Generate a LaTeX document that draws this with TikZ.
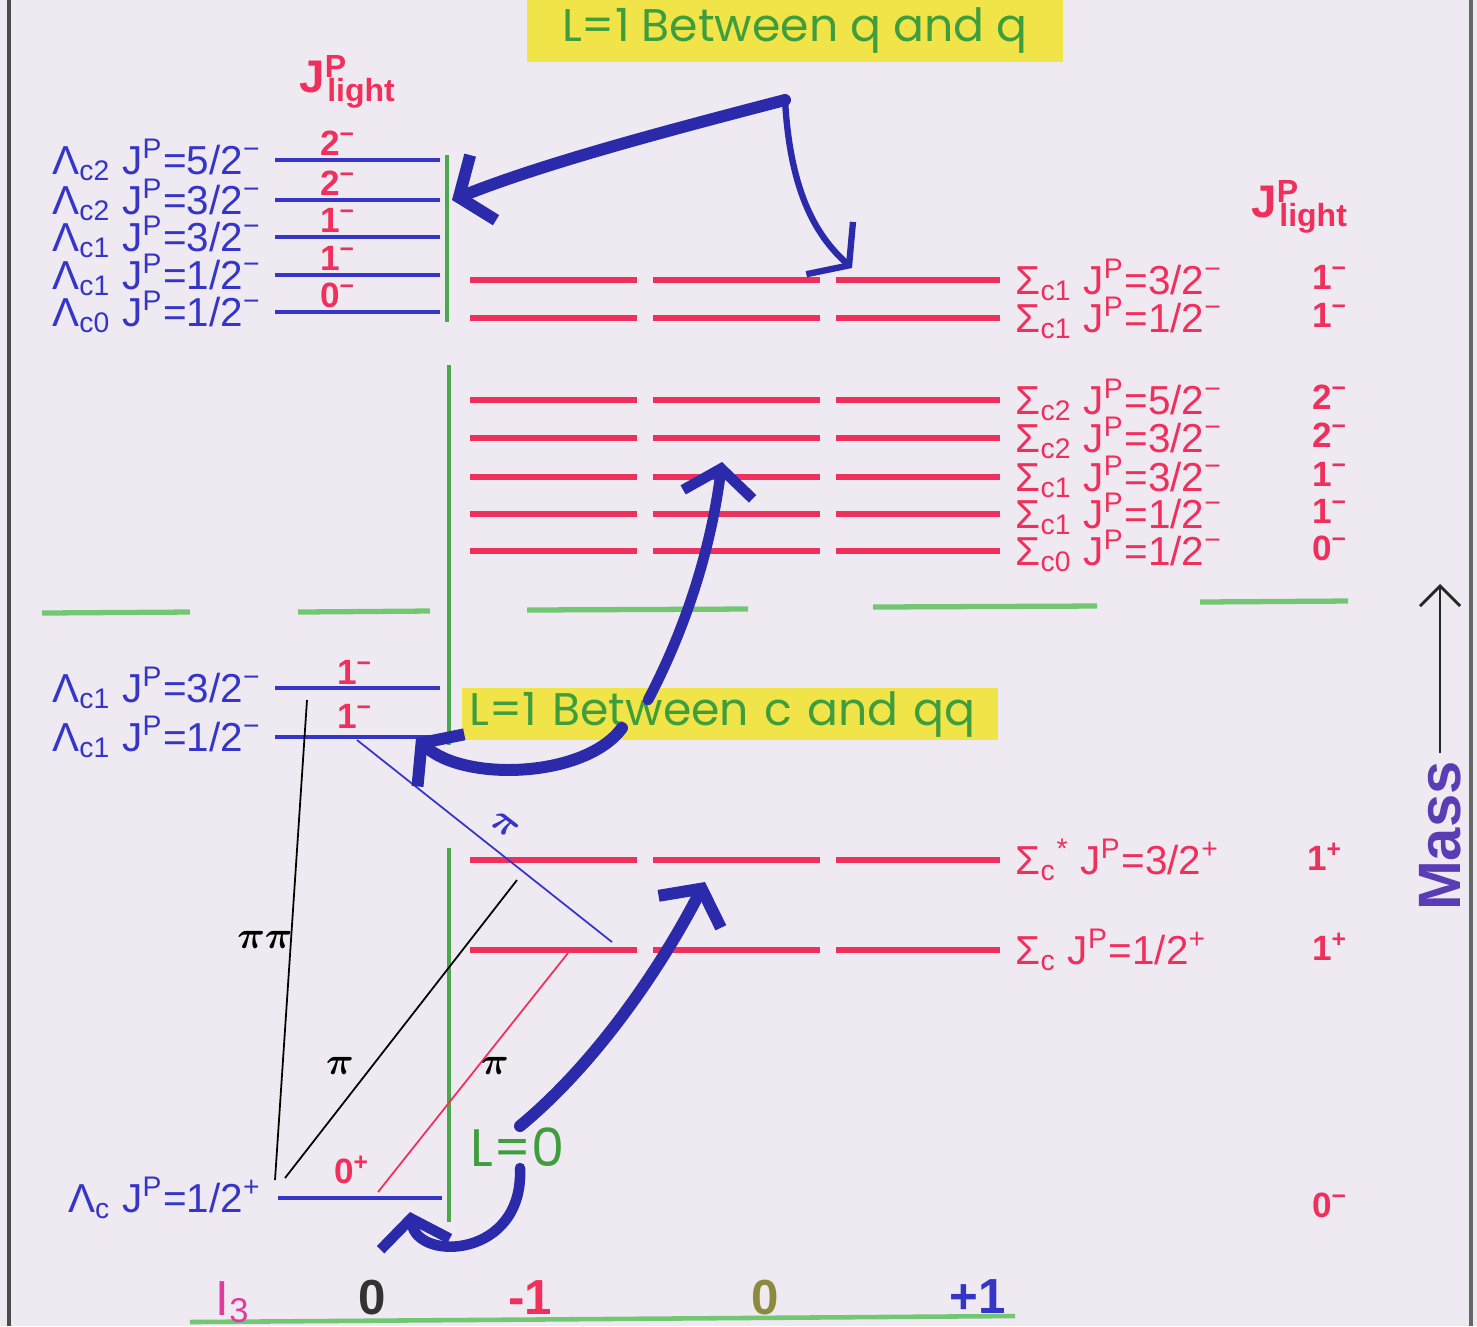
\documentclass[tikz,border=0pt]{standalone}
\usepackage{fontspec}
\setmainfont{Liberation Sans}
\newfontfamily\boxfont{Poppins}
\usetikzlibrary{arrows.meta}
\definecolor{bgpaper}{HTML}{EFE9F1}
\definecolor{lamblue}{HTML}{3535C8}
\definecolor{sigred}{HTML}{F0305C}
\definecolor{axgreen}{HTML}{4CA84C}
\definecolor{lightgreen}{HTML}{72C872}
\definecolor{hilite}{HTML}{F0E448}
\definecolor{txtgreen}{HTML}{3E9E3E}
\definecolor{penblue}{HTML}{2A2AAA}
\definecolor{massviolet}{HTML}{5A3CB4}
\definecolor{isomag}{HTML}{E03CA0}
\definecolor{olivezero}{HTML}{8C8A3C}
\newcommand{\jp}{J\textsuperscript{P}}
\newcommand{\lamlab}[3]{Λ\textsubscript{#1} \jp=#2/2\textsuperscript{#3}}
\newcommand{\siglab}[3]{Σ\textsubscript{#1} \jp=#2/2\textsuperscript{#3}}
\newcommand{\jlight}{J\textsuperscript{P}\hspace{-0.45em}\textsubscript{light}}

\begin{document}
\begin{tikzpicture}[x=0.01cm, y=-0.01cm,
  lamlev/.style={lamblue, line width=1.3pt},
  siglev/.style={sigred, line width=1.5pt},
  vgreen/.style={axgreen, line width=1.2pt},
  hgreen/.style={lightgreen, line width=1.5pt},
  lamtxt/.style={text=lamblue, anchor=east, inner sep=0pt, font=\fontsize{11.5}{12}\selectfont},
  sigtxt/.style={text=sigred, anchor=west, inner sep=0pt, font=\fontsize{11.5}{12}\selectfont},
  jlab/.style={text=sigred, inner sep=0pt, font=\fontsize{10}{10}\selectfont\bfseries},
  hbox/.style={fill=hilite, text=txtgreen, inner sep=0pt, font=\boxfont\fontsize{13}{14}\selectfont},
  pen/.style={penblue, line width=3.4pt, line cap=round, -{Straight Barb[length=2.6mm, width=7mm]}},
  pion/.style={line width=0.5pt},
  pilab/.style={inner sep=0pt, font=\fontsize{11}{11}\selectfont\boldmath},
  isolab/.style={inner sep=0pt, font=\fontsize{14}{14}\selectfont\bfseries}]

\useasboundingbox (0,0) rectangle (1477,1326);
\fill[bgpaper] (0,0) rectangle (1477,1326);
\draw[black!70, line width=0.9pt] (9,0) -- (9,1326);
\draw[black!60, line width=0.9pt] (1471,0) -- (1471,1326);

% --- Highlighted titles ---
\node[hbox, minimum width=5.35cm, minimum height=0.62cm] (titleqq) at (795,31) {L=1 Between q and q};
\node[hbox, minimum width=5.35cm, minimum height=0.52cm, text width=5.2cm, align=left] (titlecqq) at (730,714) {L=1 Between c and qq};

\node[text=sigred, inner sep=0pt, font=\fontsize{13}{13}\selectfont\bfseries] (jlightL) at (348,82) {\jlight};
\node[text=sigred, inner sep=0pt, font=\fontsize{13}{13}\selectfont\bfseries] (jlightR) at (1300,207) {\jlight};

% --- Green separators ---
\draw[vgreen] (447,155) -- (447,322);
\draw[vgreen] (449,365) -- (449,745);
\draw[vgreen] (449,848) -- (449,1222);
\draw[hgreen] (42,613) -- (190,612);
\draw[hgreen] (298,612) -- (430,611);
\draw[hgreen] (527,610) -- (748,609);
\draw[hgreen] (873,607) -- (1097,606);
\draw[hgreen] (1200,602) -- (1348,601);

% --- Lambda_c levels ---
\foreach \y/\sub/\num/\jl in {160/c2/5/2, 200/c2/3/2, 237/c1/3/1, 275/c1/1/1, 312/c0/1/0} {
  \draw[lamlev] (275,\y) -- (440,\y);
  \node[lamtxt] at (262,\y) {\lamlab{\sub}{\num}{−}};
  \node[jlab] at (338,\y-17) {\jl\textsuperscript{−}};
}
\draw[lamlev] (275,688) -- (440,688);
\node[lamtxt] (lamA) at (262,688) {\lamlab{c1}{3}{−}};
\node[jlab] at (355,672) {1\textsuperscript{−}};
\draw[lamlev] (275,737) -- (440,737);
\node[lamtxt] (lamB) at (262,737) {\lamlab{c1}{1}{−}};
\node[jlab] at (355,716) {1\textsuperscript{−}};
\draw[lamlev] (278,1198) -- (442,1198);
\node[lamtxt] (lamG) at (262,1198) {\lamlab{c}{1}{+}};
\node[jlab] at (352,1170) {0\textsuperscript{+}};

% --- Sigma_c levels ---
\foreach \y/\sub/\num/\jl in {280/c1/3/1, 318/c1/1/1, 400/c2/5/2, 438/c2/3/2, 477/c1/3/1, 514/c1/1/1, 551/c0/1/0} {
  \foreach \xa/\xb in {470/637, 653/820, 836/1000}
    \draw[siglev] (\xa,\y) -- (\xb,\y);
  \node[sigtxt] at (1015,\y) {\siglab{\sub}{\num}{−}};
  \node[jlab] at (1330,\y-3) {\jl\textsuperscript{−}};
}
\foreach \y in {860, 950}
  \foreach \xa/\xb in {470/637, 653/820, 836/1000}
    \draw[siglev] (\xa,\y) -- (\xb,\y);
\node[sigtxt] (sigS) at (1015,860) {Σ\textsubscript{c}\textsuperscript{*} \jp=3/2\textsuperscript{+}};
\node[jlab] at (1325,857) {1\textsuperscript{+}};
\node[sigtxt] (sigG) at (1015,950) {\siglab{c}{1}{+}};
\node[jlab] at (1330,947) {1\textsuperscript{+}};
\node[jlab] at (1330,1205) {0\textsuperscript{−}};

% --- Pion transitions ---
\coordinate (pp1) at (307,700);  \coordinate (pp2) at (275,1180);
\coordinate (pk1) at (285,1178); \coordinate (pk2) at (517,880);
\coordinate (pr1) at (378,1192); \coordinate (pr2) at (568,953);
\coordinate (pb1) at (357,740);  \coordinate (pb2) at (612,942);
\draw[pion, black] (pp1) -- (pp2);
\draw[pion, black] (pk1) -- (pk2);
\draw[pion, sigred] (pr1) -- (pr2);
\draw[pion, lamblue] (pb1) -- (pb2);
\node[pilab] at (265,940) {$\pi\pi$};
\node[pilab] at (340,1066) {$\pi$};
\node[pilab] at (495,1066) {$\pi$};
\node[pilab, text=lamblue, rotate=-38] at (505,825) {$\pi$};

\node[text=txtgreen, inner sep=0pt, font=\boxfont\fontsize{15}{15}\selectfont] (lzero) at (518,1147) {L=0};

% --- Hand-drawn arrows ---
\coordinate (qqsrc) at (785,100);
\coordinate (qqtipL) at (452,200);
\coordinate (qqtipR) at (852,268);
\draw[pen] (qqsrc) .. controls (650,135) and (540,165) .. (qqtipL);
\draw[pen, line width=1.8pt] (qqsrc) .. controls (790,190) and (815,235) .. (qqtipR);
\coordinate (cqsrc) at (648,700);
\coordinate (cqtip) at (722,462);
\draw[pen, line width=3pt] (cqsrc) .. controls (690,620) and (712,540) .. (cqtip);
\coordinate (cqback) at (622,728);
\coordinate (lamtip) at (416,738);
\draw[pen] (cqback) .. controls (585,778) and (465,782) .. (lamtip);
\coordinate (lzsrc) at (520,1126);
\coordinate (sigtip) at (705,882);
\draw[pen] (lzsrc) .. controls (600,1060) and (665,960) .. (sigtip);
\coordinate (lzdown) at (520,1168);
\coordinate (gndtip) at (410,1212);
\draw[pen, line width=3pt] (lzdown) .. controls (524,1258) and (418,1262) .. (gndtip);

% --- Mass axis ---
\node[rotate=90, text=massviolet, inner sep=0pt, font=\fontsize{17}{17}\selectfont\bfseries] (mass) at (1440,836) {Mass};
\coordinate (masstop) at (1440,584);
\draw[black!85, line width=0.8pt, -{Straight Barb[length=2mm, width=4mm]}] (mass.east) ++(0,-8) -- (masstop);

% --- Isospin axis ---
\draw[hgreen, line width=1.3pt] (190,1322) -- (1015,1316);
\node[isolab, text=isomag, font=\fontsize{14}{14}\selectfont] (ithree) at (233,1302) {I\textsubscript{3}};
\node[isolab, text=black!80] (izeroL) at (372,1298) {0};
\node[isolab, text=sigred] (iminus) at (530,1298) {-1};
\node[isolab, text=olivezero] (izeroR) at (765,1298) {0};
\node[isolab, text=lamblue] (iplus) at (978,1297) {+1};

\end{tikzpicture}
\end{document}
